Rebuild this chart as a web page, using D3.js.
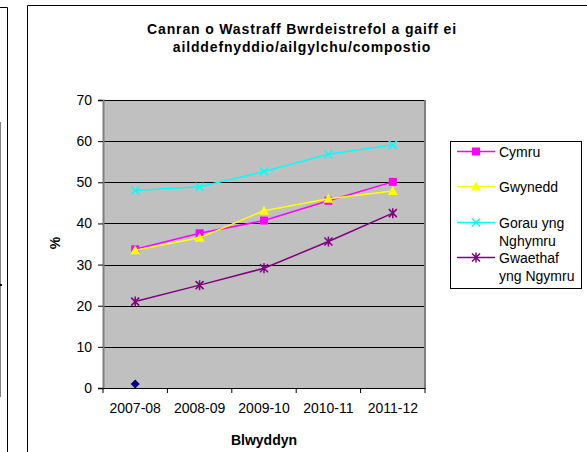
<!DOCTYPE html>
<html><head><meta charset="utf-8">
<script src="https://cdn.jsdelivr.net/npm/d3@7"></script>
<style>body{margin:0;background:#fff}svg{display:block;font-family:"Liberation Sans",Arial,sans-serif}</style>
</head><body>
<svg id="c" width="587" height="452"></svg>
<script>
const categories = ["2007-08","2008-09","2009-10","2010-11","2011-12"];
const cymru    = [33.7, 37.6, 40.7, 45.5, 50.1];
const gwynedd  = [33.5, 36.5, 43.1, 46.0, 47.9];
const gorau    = [48.0, 48.9, 52.6, 56.8, 59.1];
const gwaethaf = [21.0, 25.0, 29.1, 35.6, 42.5];
const extra    = [1.0];
const yTicks = [0,10,20,30,40,50,60,70];
const titleLines = ["Canran o Wastraff Bwrdeistrefol a gaiff ei","ailddefnyddio/ailgylchu/compostio"];

const series = [
  {name:["Cymru"], values:cymru, color:"#FF00FF", marker:"square"},
  {name:["Gwynedd"], values:gwynedd, color:"#FFFF00", marker:"triangle"},
  {name:["Gorau yng","Nghymru"], values:gorau, color:"#00FFFF", marker:"x"},
  {name:["Gwaethaf","yng Ngymru"], values:gwaethaf, color:"#800080", marker:"star"}
];

const FONT = "Liberation Sans, Arial, sans-serif";
const svg = d3.select("#c");
// fragment of neighbouring chart at left edge
svg.append("path").attr("d","M0,7.5H7.5V452").attr("fill","none").attr("stroke","#000").attr("stroke-width",1);
svg.append("line").attr("x1",0.5).attr("x2",0.5).attr("y1",122).attr("y2",397).attr("stroke","#808080").attr("stroke-width",1);
svg.append("line").attr("x1",0).attr("x2",2).attr("y1",285).attr("y2",285).attr("stroke","#000").attr("stroke-width",2);
// chart frame
svg.append("path").attr("d","M27.5,452V5.5H587").attr("fill","none").attr("stroke","#000").attr("stroke-width",1);

const L=103, R=425, T=100, B=388;
const x = d3.scaleBand().domain(categories).range([L,R]);
const y = d3.scaleLinear().domain([0,70]).range([B,T]);

svg.append("rect").attr("x",L).attr("y",T).attr("width",R-L).attr("height",B-T).attr("fill","#C0C0C0");
// gridlines
svg.append("g").selectAll("line").data(yTicks.filter(d=>d>0)).join("line")
  .attr("x1",L).attr("x2",R).attr("y1",d=>Math.round(y(d))+0.5).attr("y2",d=>Math.round(y(d))+0.5)
  .attr("stroke","#000").attr("stroke-width",1);
// right border
svg.append("line").attr("x1",R).attr("x2",R).attr("y1",T).attr("y2",B).attr("stroke","#808080").attr("stroke-width",2);

// y axis
const ya = svg.append("g").attr("transform",`translate(${L},0)`)
  .call(d3.axisLeft(y).tickValues(yTicks).tickSize(5).tickPadding(6).tickFormat(d3.format("d")));
ya.select(".domain").attr("stroke","#808080").attr("stroke-width",2);
ya.selectAll(".tick line").attr("stroke","#000");
ya.selectAll("text").attr("font-size",14).attr("fill","#000").attr("font-family",FONT);

// x axis
const xa = svg.append("g").attr("transform",`translate(0,${B})`)
  .call(d3.axisBottom(x).tickSize(0).tickPadding(15));
xa.select(".domain").attr("stroke","#000").attr("stroke-width",1);
xa.selectAll("text").attr("font-size",14).attr("fill","#000").attr("font-family",FONT);
// category boundary ticks
const bounds = categories.map(c=>x(c)).concat([R]);
svg.append("g").selectAll("line").data(bounds).join("line")
  .attr("x1",d=>d).attr("x2",d=>d).attr("y1",B).attr("y2",B+5).attr("stroke","#000");

const cx = c => x(c)+x.bandwidth()/2;
const line = d3.line().x((d,i)=>cx(categories[i])).y(d=>y(d));

function marker(g, type, color, px, py){
  if(type==="square"){
    g.append("rect").attr("x",px-4).attr("y",py-4).attr("width",8).attr("height",8).attr("fill",color);
  } else if(type==="triangle"){
    g.append("path").attr("d",`M${px},${py-5}L${px+5},${py+4}L${px-5},${py+4}Z`).attr("fill",color);
  } else if(type==="x"){
    g.append("path").attr("d",`M${px-4},${py-4}L${px+4},${py+4}M${px+4},${py-4}L${px-4},${py+4}`).attr("stroke",color).attr("stroke-width",1.5);
  } else if(type==="star"){
    g.append("path").attr("d",`M${px-4},${py-4}L${px+4},${py+4}M${px+4},${py-4}L${px-4},${py+4}M${px},${py-5}L${px},${py+5}`).attr("stroke",color).attr("stroke-width",1.5);
  } else if(type==="diamond"){
    g.append("path").attr("d",`M${px},${py-4.5}L${px+4.5},${py}L${px},${py+4.5}L${px-4.5},${py}Z`).attr("fill",color);
  }
}

const order = [3,2,0,1];
order.forEach(i=>{
  const s = series[i];
  const g = svg.append("g");
  g.append("path").datum(s.values).attr("d",line).attr("fill","none").attr("stroke",s.color).attr("stroke-width",1.5);
  s.values.forEach((v,j)=>marker(g,s.marker,s.color,cx(categories[j]),y(v)));
});
// extra single-point series
extra.forEach((v,j)=>marker(svg.append("g"),"diamond","#000080",cx(categories[j]),y(v)));

// title
svg.append("text").attr("x",302).attr("y",34).attr("text-anchor","middle").attr("font-size",14).attr("font-weight","bold")
  .attr("letter-spacing",0.85)
  .selectAll("tspan").data(titleLines).join("tspan").attr("x",302).attr("dy",(d,i)=>i?18:0).text(d=>d);

// axis titles
svg.append("text").attr("x",264).attr("y",445).attr("text-anchor","middle").attr("font-size",14).attr("font-weight","bold").text("Blwyddyn");
svg.append("text").attr("transform","translate(60,243) rotate(-90)").attr("text-anchor","middle").attr("font-size",14).attr("font-weight","bold").text("%");

// legend
const lg = svg.append("g");
lg.append("rect").attr("x",450.5).attr("y",141.5).attr("width",131).attr("height",147).attr("fill","#fff").attr("stroke","#000").attr("stroke-width",1);
const legY = [151.5,186.5,222.5,257.5];
series.forEach((s,i)=>{
  const yy = legY[i];
  lg.append("line").attr("x1",457).attr("x2",495).attr("y1",yy).attr("y2",yy).attr("stroke",s.color).attr("stroke-width",1.5);
  marker(lg,s.marker,s.color,476,yy);
  const t = lg.append("text").attr("x",499).attr("y",yy+5).attr("font-size",14);
  s.name.forEach((n,k)=>t.append("tspan").attr("x",499).attr("dy",k?18.5:0).text(n));
});
</script>
</body></html>
